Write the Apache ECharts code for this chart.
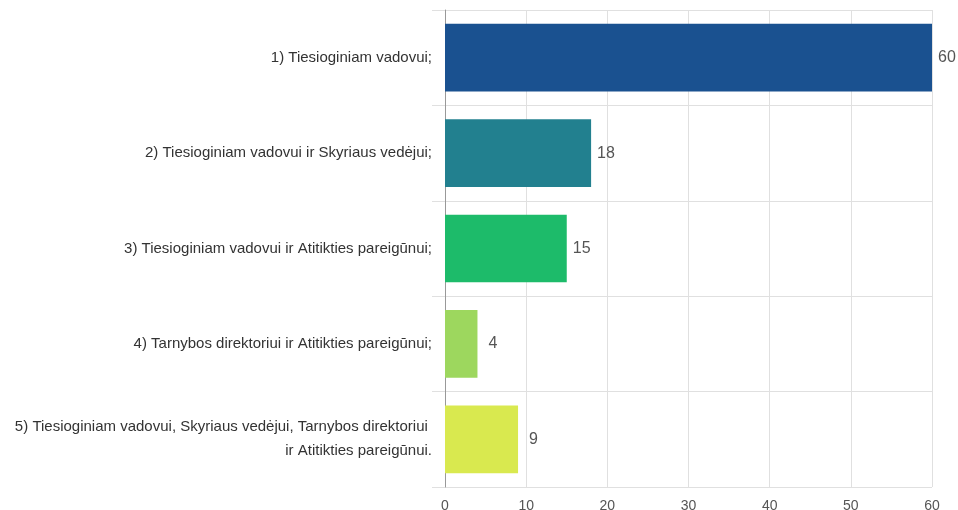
<!DOCTYPE html>
<html>
<head>
<meta charset="utf-8">
<script src="https://cdn.jsdelivr.net/npm/echarts@6/dist/echarts.min.js"></script>
<style>html,body{margin:0;padding:0;background:#fff}#c{width:958px;height:510px}</style>
</head>
<body>
<div id="c"></div>
<script>
const categories = [
  "1) Tiesioginiam vadovui;",
  "2) Tiesioginiam vadovui ir Skyriaus vedėjui;",
  "3) Tiesioginiam vadovui ir Atitikties pareigūnui;",
  "4) Tarnybos direktoriui ir Atitikties pareigūnui;",
  "5) Tiesioginiam vadovui, Skyriaus vedėjui, Tarnybos direktoriui ir Atitikties pareigūnui."
];
const values = [60, 18, 15, 4, 9];
const colors = ["#1a5190", "#22808f", "#1dbb6a", "#9dd75e", "#d9e94f"];
const xTicks = [0, 10, 20, 30, 40, 50, 60];

const chart = echarts.init(document.getElementById('c'));
chart.setOption({
  animation: false,
  textStyle: { fontFamily: 'Liberation Sans, Arial, sans-serif' },
  grid: { left: 445, right: 26, top: 10, bottom: 23, containLabel: false, outerBoundsMode: 'none' },
  xAxis: {
    type: 'value', min: xTicks[0], max: xTicks[xTicks.length - 1], interval: 10,
    axisLine: { show: false },
    axisTick: { show: false },
    axisLabel: { color: '#555', fontSize: 14, margin: 12 },
    splitLine: { show: true, lineStyle: { color: '#e0e0e0' } }
  },
  yAxis: {
    type: 'category', inverse: true, data: categories,
    axisLine: { show: true, lineStyle: { color: '#999' } },
    axisTick: { show: true, length: 13, lineStyle: { color: '#e0e0e0' } },
    splitLine: { show: true, lineStyle: { color: '#e0e0e0' } },
    axisLabel: { color: '#333', fontSize: 15, margin: 13, width: 430, overflow: 'break', align: 'right', lineHeight: 24 }
  },
  series: [{
    type: 'bar',
    data: values.map((v, i) => ({
      value: v,
      itemStyle: { color: colors[i] },
      label: { distance: String(v).length === 1 ? 11 : 6 }
    })),
    barWidth: '71%',
    label: { show: true, position: 'right', color: '#555', fontSize: 16 }
  }]
});
</script>
</body>
</html>
